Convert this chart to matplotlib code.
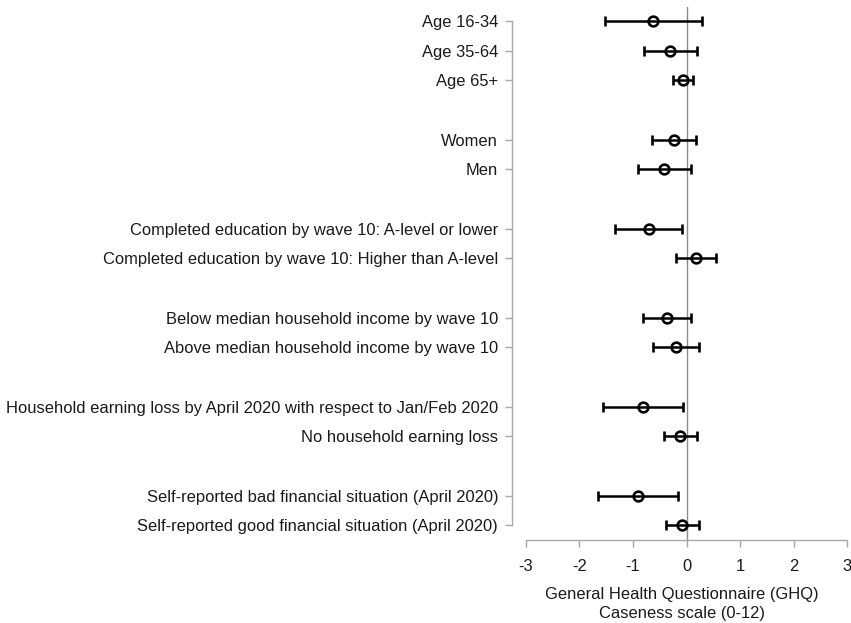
import matplotlib
matplotlib.use("Agg")
import matplotlib.pyplot as plt

plt.rcParams.update({
    "font.family": ["Liberation Sans", "DejaVu Sans"],
    "font.size": 11.9,
})

# ---- data -------------------------------------------------------------------
labels = [
    "Age 16-34",
    "Age 35-64",
    "Age 65+",
    "Women",
    "Men",
    "Completed education by wave 10: A-level or lower",
    "Completed education by wave 10: Higher than A-level",
    "Below median household income by wave 10",
    "Above median household income by wave 10",
    "Household earning loss by April 2020 with respect to Jan/Feb 2020",
    "No household earning loss",
    "Self-reported bad financial situation (April 2020)",
    "Self-reported good financial situation (April 2020)",
]
# slot on the vertical axis (blank slot between groups)
slots = [0, 1, 2, 4, 5, 7, 8, 10, 11, 13, 14, 16, 17]
estimate = [-0.62, -0.31, -0.07, -0.24, -0.42, -0.70, 0.17, -0.37, -0.20,
            -0.82, -0.12, -0.91, -0.08]
ci_low = [-1.53, -0.80, -0.26, -0.65, -0.90, -1.33, -0.20, -0.82, -0.63,
          -1.57, -0.42, -1.65, -0.39]
ci_high = [0.28, 0.19, 0.12, 0.17, 0.08, -0.09, 0.54, 0.09, 0.23,
           -0.07, 0.19, -0.16, 0.24]
xticks = [-3, -2, -1, 0, 1, 2, 3]

fig = plt.figure(figsize=(8.51, 6.23), dpi=100)
ax = fig.add_axes([512 / 851, 1 - 540 / 623, 339 / 851, 533 / 623])

axis_grey = "#a8a8a8"

ax.axvline(0, color="#8c8c8c", linewidth=1.0, zorder=1)

err_lo = [e - l for e, l in zip(estimate, ci_low)]
err_hi = [h - e for e, h in zip(estimate, ci_high)]
ax.errorbar(estimate, slots, xerr=[err_lo, err_hi], fmt="o",
            color="black", ecolor="black", elinewidth=1.8, capsize=3.3,
            capthick=1.8, markersize=7, markerfacecolor="none",
            markeredgewidth=1.9, zorder=3)

ax.set_xlim(-3.26, 3.07)
ax.set_ylim(17.5, -0.47)

ax.set_yticks(slots)
ax.set_yticklabels(labels)
ax.set_xticks(xticks)
ax.set_xticklabels([str(t) for t in xticks])

for side in ("top", "right"):
    ax.spines[side].set_visible(False)
ax.spines["left"].set_bounds(0, 17)
ax.spines["bottom"].set_bounds(-3, 3)
for side in ("left", "bottom"):
    ax.spines[side].set_color(axis_grey)
    ax.spines[side].set_linewidth(1.0)

ax.tick_params(axis="both", colors=axis_grey, length=5, width=1.0,
               labelcolor="#1a1a1a", labelsize=11.9)
ax.tick_params(axis="y", pad=5)
ax.tick_params(axis="x", pad=9)

ax.set_xlabel("General Health Questionnaire (GHQ)\nCaseness scale (0-12)",
              fontsize=11.9, color="#1a1a1a", labelpad=9, linespacing=1.3)

fig.savefig("out.png", dpi=100)
